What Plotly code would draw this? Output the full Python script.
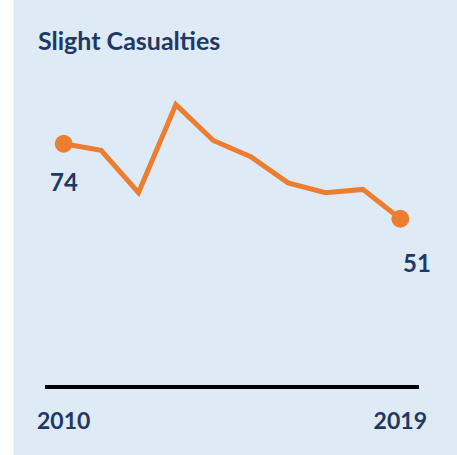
import plotly.graph_objects as go

years = [2010, 2011, 2012, 2013, 2014, 2015, 2016, 2017, 2018, 2019]
slight = [74, 72, 59, 86, 75, 70, 62, 59, 60, 51]
title_text = "Slight Casualties"

orange = "#ED7D31"
navy = "#1F3864"
panel = "#DEEAF6"

fig = go.Figure()

fig.add_trace(go.Scatter(
    x=years, y=slight, mode="lines",
    line=dict(color=orange, width=5),
    hoverinfo="skip",
))
# dots only at the two ends
fig.add_trace(go.Scatter(
    x=[years[0], years[-1]], y=[slight[0], slight[-1]], mode="markers",
    marker=dict(color=orange, size=18),
    hoverinfo="skip",
))

label_font = dict(family="Lato", size=24, color=navy, weight="bold")
fig.add_annotation(x=years[0], y=slight[0], text=str(slight[0]),
                   showarrow=False, yshift=-38, font=label_font)
fig.add_annotation(x=years[-1], y=slight[-1], text=str(slight[-1]),
                   showarrow=False, xshift=17, yshift=-44, font=label_font)

# white strip on the left of the panel
fig.add_shape(type="rect", xref="paper", yref="paper",
              x0=-0.3, x1=-0.084, y0=-0.4, y1=1.4,
              fillcolor="white", line=dict(width=0), layer="below")

fig.update_layout(
    width=457, height=455,
    margin=dict(l=44.5, r=37.5, t=59, b=70),
    paper_bgcolor=panel, plot_bgcolor=panel,
    showlegend=False,
    title=dict(text=title_text, x=38 / 457, xanchor="left",
               y=1 - 41 / 455, yanchor="middle",
               font=dict(family="Lato", size=25, color=navy, weight="bold")),
    xaxis=dict(range=[2009.5, 2019.5], showgrid=False, zeroline=False,
               showline=True, linecolor="black", linewidth=4,
               tickvals=[years[0], years[-1]], ticks="",
               ticklabelstandoff=12,
               tickfont=dict(family="Lato", size=23, color=navy, weight="bold"),
               tickformat="d"),
    yaxis=dict(range=[0, 100], visible=False, showgrid=False),
)

fig.write_html("out.html", config={"displayModeBar": False},
               post_script="document.body.style.margin='0';")
